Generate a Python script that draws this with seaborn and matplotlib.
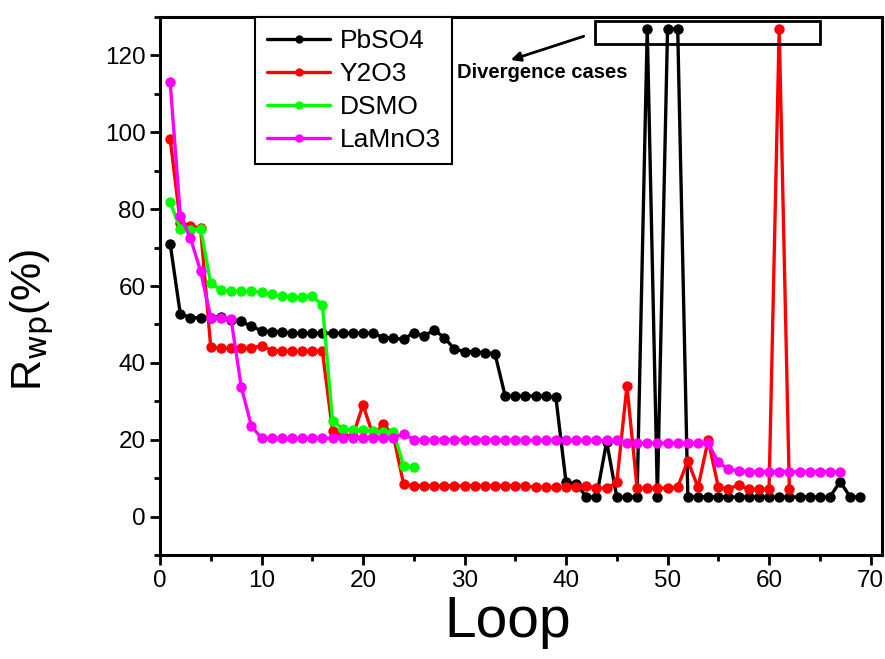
import matplotlib
matplotlib.use('Agg')
import matplotlib.pyplot as plt
from matplotlib.ticker import MultipleLocator
from matplotlib.patches import Rectangle
import seaborn as sns
import pandas as pd

# values
pbso4 = [71.0, 52.7, 51.8, 51.7, 51.8, 52.0, 51.2, 50.8, 49.5, 48.4,
         48.1, 48.1, 47.7, 47.7, 47.7, 47.7, 47.7, 47.7, 47.7, 47.7,
         47.7, 46.6, 46.5, 46.1, 47.9, 46.9, 48.6, 46.6, 43.6, 42.9,
         42.9, 42.6, 42.4, 31.4, 31.4, 31.4, 31.4, 31.4, 31.0, 8.9,
         8.6, 5.1, 5.1, 19.5, 5.1, 5.1, 5.1, 127.0, 5.1, 127.0,
         127.0, 5.1, 5.1, 5.1, 5.1, 5.1, 5.1, 5.1, 5.1, 5.1,
         5.1, 5.1, 5.1, 5.1, 5.1, 5.1, 9.1, 5.1, 5.1]
y2o3 = [98.3, 76.5, 75.7, 75.0, 44.0, 43.8, 43.8, 43.8, 43.8, 44.5,
        43.2, 43.0, 43.0, 43.0, 43.0, 43.0, 22.3, 21.0, 21.0, 29.1,
        21.0, 24.1, 21.0, 8.4, 8.0, 8.0, 8.0, 8.0, 8.0, 8.0,
        8.0, 8.0, 8.0, 8.0, 8.0, 8.0, 7.6, 7.6, 7.6, 7.6,
        7.7, 8.0, 7.4, 7.4, 8.9, 34.0, 7.4, 7.4, 7.4, 7.4,
        7.7, 14.5, 7.6, 19.9, 7.7, 7.1, 8.3, 7.1, 7.1, 7.1,
        127.0, 7.1]
dsmo = [81.8, 74.9, 74.6, 74.9, 60.7, 59.0, 58.6, 58.6, 58.6, 58.4,
        57.8, 57.3, 57.1, 57.1, 57.4, 55.0, 24.9, 22.8, 22.5, 22.5,
        22.3, 22.1, 22.1, 13.2, 12.8]
lamno3 = [113.0, 78.3, 72.5, 63.8, 51.8, 51.7, 51.4, 33.8, 23.6, 20.4,
          20.4, 20.4, 20.4, 20.4, 20.4, 20.4, 20.4, 20.4, 20.4, 20.4,
          20.4, 20.4, 20.4, 21.6, 20.0, 20.0, 20.0, 20.0, 20.0, 20.0,
          20.0, 20.0, 20.0, 19.8, 19.8, 19.8, 19.8, 19.8, 19.8, 19.8,
          19.8, 19.8, 19.8, 19.8, 19.8, 19.1, 19.1, 19.1, 19.1, 19.1,
          19.1, 19.1, 19.1, 19.1, 14.1, 12.3, 11.9, 11.7, 11.7, 11.7,
          11.7, 11.7, 11.7, 11.7, 11.7, 11.7, 11.7]

names = ['PbSO4', 'Y2O3', 'DSMO', 'LaMnO3']
colors = ['#000000', '#ff0000', '#00ff00', '#ff00ff']
series = [pbso4, y2o3, dsmo, lamno3]

rows = []
for name, vals in zip(names, series):
    for i, v in enumerate(vals):
        rows.append({'Loop': i + 1, 'Rwp': v, 'sample': name})
df = pd.DataFrame(rows)

sns.set_style('ticks')
plt.rcParams['font.family'] = ['Liberation Sans', 'DejaVu Sans']
for k in ['text.color', 'axes.labelcolor', 'xtick.color', 'ytick.color']:
    plt.rcParams[k] = 'black'

fig = plt.figure(figsize=(8.85, 6.59), dpi=100)
ax = fig.add_axes([0.1808, 0.1578, 0.8155, 0.8164])

for name, col in zip(names, colors):
    sns.lineplot(data=df[df['sample'] == name], x='Loop', y='Rwp',
                 color=col, marker='o', markersize=7.5, markeredgewidth=0,
                 linewidth=2.4, label=name, ax=ax)

ax.set_xlim(0, 71.1)
ax.set_ylim(-10, 130)
ax.xaxis.set_major_locator(MultipleLocator(10))
ax.xaxis.set_minor_locator(MultipleLocator(5))
ax.yaxis.set_minor_locator(MultipleLocator(10))
ax.set_yticks([0, 20, 40, 60, 80, 100, 120])
ax.tick_params(which='major', length=7, width=2, labelsize=17.5, direction='out')
ax.tick_params(which='minor', length=4.5, width=2, direction='out')
for s in ax.spines.values():
    s.set_linewidth(2.2)
    s.set_color('black')

ax.set_xlabel('Loop', fontsize=41)
ax.xaxis.set_label_coords(0.482, -0.075)
ax.set_ylabel('R$_{\\mathrm{wp}}$(%)', fontsize=31)
ax.yaxis.set_label_coords(-0.144, 0.437)

# divergence annotation
ax.add_patch(Rectangle((42.9, 122.9), 22.1, 6.0, fill=False,
                       edgecolor='black', linewidth=2, zorder=5))
ax.annotate('', xy=(34.3, 118.6), xytext=(42.0, 125.2),
            arrowprops=dict(arrowstyle='-|>', color='black', lw=2,
                            mutation_scale=14))
ax.text(37.7, 115.5, 'Divergence cases', fontsize=14.5, fontweight='bold',
        ha='center', va='center')

leg = ax.legend(loc='upper left', bbox_to_anchor=(0.1316, 1.0),
                borderaxespad=0, fontsize=19, handlelength=2.4,
                labelspacing=0.34, handletextpad=0.35, borderpad=0.45,
                fancybox=False, framealpha=1)
leg.get_frame().set_edgecolor('black')
leg.get_frame().set_linewidth(1.5)
for h in leg.legend_handles:
    h.set_markersize(6)

fig.savefig('out.png', dpi=100)
